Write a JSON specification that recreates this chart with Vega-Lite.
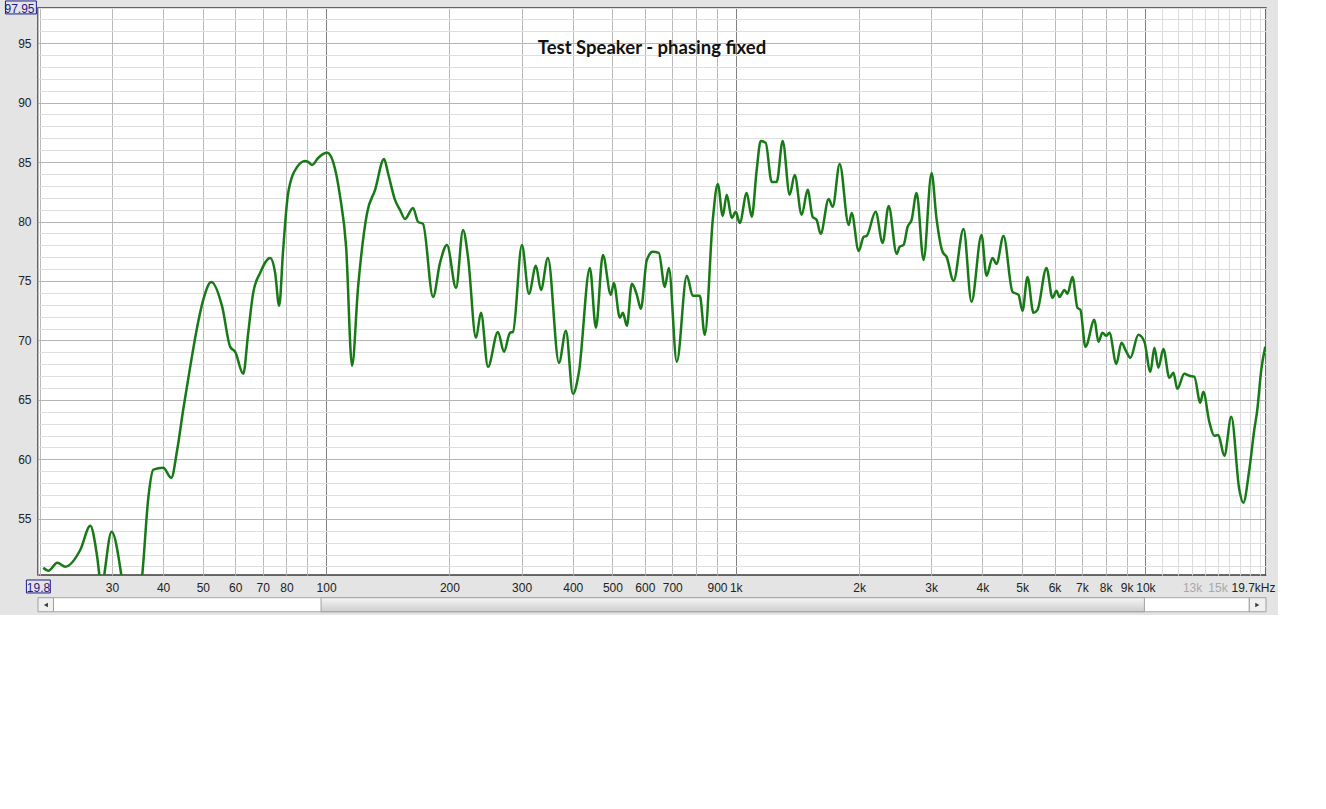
{
  "$schema": "https://vega.github.io/schema/vega-lite/v6.json",
  "width": 1228,
  "height": 567,
  "autosize": {"type": "none"},
  "padding": {"left": 38, "top": 8, "right": 12, "bottom": 40},
  "background": "#e4e4e4",
  "config": {
    "view": {"fill": "#ffffff", "stroke": "#3a3a3a", "strokeWidth": 1.5},
    "font": "Liberation Sans"
  },
  "title": {
    "text": "Test Speaker - phasing fixed",
    "orient": "top",
    "anchor": "middle",
    "frame": "group",
    "baseline": "alphabetic",
    "offset": -72,
    "font": "Lato",
    "fontSize": 18.5,
    "fontWeight": "bold",
    "color": "#111111"
  },
  "datasets": {
    "response": [
      {"f": 20.4, "db": 50.89}, {"f": 21.0, "db": 50.64}, {"f": 22.08, "db": 51.31}, {"f": 23.09, "db": 50.98},
      {"f": 25.12, "db": 52.4}, {"f": 26.57, "db": 54.42}, {"f": 27.33, "db": 52.82}, {"f": 27.95, "db": 50.3},
      {"f": 28.26, "db": 48.5}, {"f": 28.74, "db": 50.3}, {"f": 29.95, "db": 53.92}, {"f": 31.62, "db": 50.3},
      {"f": 32.52, "db": 47}, {"f": 33.45, "db": 45.5}, {"f": 34.59, "db": 47}, {"f": 35.58, "db": 50.3},
      {"f": 36.81, "db": 56.77}, {"f": 37.85, "db": 59.13}, {"f": 38.9, "db": 59.25}, {"f": 40.04, "db": 59.29},
      {"f": 41.88, "db": 58.45}, {"f": 43.3, "db": 60.81}, {"f": 44.78, "db": 64.17}, {"f": 46.58, "db": 67.78},
      {"f": 48.45, "db": 71.14}, {"f": 50.12, "db": 73.41}, {"f": 52.43, "db": 74.92}, {"f": 55.77, "db": 72.82},
      {"f": 58.33, "db": 69.46}, {"f": 59.98, "db": 69.04}, {"f": 62.76, "db": 67.19}, {"f": 64.54, "db": 70.64},
      {"f": 66.37, "db": 74.0}, {"f": 69.02, "db": 75.68}, {"f": 73.01, "db": 76.94}, {"f": 75.09, "db": 75.68},
      {"f": 76.8, "db": 72.91}, {"f": 78.54, "db": 77.61}, {"f": 80.79, "db": 82.4}, {"f": 84.97, "db": 84.59},
      {"f": 88.88, "db": 85.09}, {"f": 90.4, "db": 85.01}, {"f": 92.44, "db": 84.76}, {"f": 95.6, "db": 85.34},
      {"f": 100.6, "db": 85.77}, {"f": 104.0, "db": 85.01}, {"f": 108.2, "db": 82.07}, {"f": 111.9, "db": 77.87},
      {"f": 115.7, "db": 67.87}, {"f": 119.7, "db": 74.5}, {"f": 125.9, "db": 80.72}, {"f": 131.7, "db": 82.66},
      {"f": 138.5, "db": 85.26}, {"f": 141.6, "db": 84.08}, {"f": 147.3, "db": 81.82}, {"f": 151.5, "db": 80.98},
      {"f": 155.8, "db": 80.22}, {"f": 163.0, "db": 81.14}, {"f": 167.7, "db": 79.97}, {"f": 172.4, "db": 79.8},
      {"f": 182.4, "db": 73.66}, {"f": 189.7, "db": 76.52}, {"f": 197.3, "db": 78.03}, {"f": 207.6, "db": 74.42},
      {"f": 215.9, "db": 79.29}, {"f": 222.0, "db": 77.03}, {"f": 232.2, "db": 70.22}, {"f": 238.8, "db": 72.32},
      {"f": 248.4, "db": 67.78}, {"f": 262.7, "db": 70.72}, {"f": 271.8, "db": 69.04}, {"f": 281.1, "db": 70.64},
      {"f": 285.9, "db": 70.72}, {"f": 300.6, "db": 78.03}, {"f": 312.7, "db": 73.92}, {"f": 325.2, "db": 76.27},
      {"f": 334.5, "db": 74.25}, {"f": 347.9, "db": 76.94}, {"f": 370.2, "db": 68.12}, {"f": 385.0, "db": 70.81},
      {"f": 400.4, "db": 65.51}, {"f": 414.2, "db": 67.36}, {"f": 440.5, "db": 76.1}, {"f": 455.6, "db": 71.06},
      {"f": 473.9, "db": 77.19}, {"f": 495.6, "db": 73.83}, {"f": 504.0, "db": 74.84}, {"f": 521.3, "db": 71.9},
      {"f": 530.2, "db": 72.32}, {"f": 542.2, "db": 71.23}, {"f": 557.7, "db": 74.76}, {"f": 573.6, "db": 73.83},
      {"f": 586.6, "db": 72.66}, {"f": 606.7, "db": 76.77}, {"f": 627.5, "db": 77.45}, {"f": 649.0, "db": 77.36},
      {"f": 671.2, "db": 74.5}, {"f": 686.5, "db": 76.1}, {"f": 718.0, "db": 68.2}, {"f": 759.5, "db": 75.43},
      {"f": 785.5, "db": 73.75}, {"f": 817.0, "db": 73.75}, {"f": 840.3, "db": 70.47}, {"f": 878.9, "db": 80.13},
      {"f": 903.9, "db": 83.16}, {"f": 929.6, "db": 80.47}, {"f": 950.6, "db": 82.24}, {"f": 977.7, "db": 80.3},
      {"f": 1000, "db": 80.81}, {"f": 1022.8, "db": 79.88}, {"f": 1063.6, "db": 82.4}, {"f": 1094, "db": 80.39},
      {"f": 1125, "db": 84.34}, {"f": 1150.7, "db": 86.77}, {"f": 1183.4, "db": 86.61}, {"f": 1223.9, "db": 83.33},
      {"f": 1258.9, "db": 83.33}, {"f": 1302, "db": 86.77}, {"f": 1354.1, "db": 82.24}, {"f": 1392.6, "db": 83.92},
      {"f": 1448.6, "db": 80.56}, {"f": 1498.2, "db": 82.66}, {"f": 1540.8, "db": 80.39}, {"f": 1575.9, "db": 80.13},
      {"f": 1611.7, "db": 78.96}, {"f": 1686.1, "db": 81.9}, {"f": 1724.5, "db": 81.23}, {"f": 1793.7, "db": 84.84},
      {"f": 1886.5, "db": 79.71}, {"f": 1918.5, "db": 80.72}, {"f": 1995.3, "db": 77.53}, {"f": 2052.2, "db": 78.71},
      {"f": 2087, "db": 78.79}, {"f": 2195.5, "db": 80.81}, {"f": 2283.6, "db": 78.2}, {"f": 2362.2, "db": 81.31},
      {"f": 2470.7, "db": 77.28}, {"f": 2511.9, "db": 77.87}, {"f": 2569.2, "db": 78.03}, {"f": 2627.5, "db": 79.55},
      {"f": 2687.3, "db": 80.13}, {"f": 2763.7, "db": 82.4}, {"f": 2874.2, "db": 76.77}, {"f": 3006, "db": 84.08},
      {"f": 3091.7, "db": 80.22}, {"f": 3198, "db": 77.45}, {"f": 3270.7, "db": 77.03}, {"f": 3402, "db": 75.01},
      {"f": 3598, "db": 79.38}, {"f": 3763, "db": 73.24}, {"f": 3981.1, "db": 78.87}, {"f": 4094.4, "db": 75.43},
      {"f": 4234.6, "db": 76.94}, {"f": 4331, "db": 76.44}, {"f": 4505, "db": 78.79}, {"f": 4738.7, "db": 74.08},
      {"f": 4900.6, "db": 73.83}, {"f": 5011.9, "db": 72.49}, {"f": 5154.6, "db": 75.34}, {"f": 5331.1, "db": 72.32},
      {"f": 5452.7, "db": 72.57}, {"f": 5735, "db": 76.1}, {"f": 5932, "db": 73.58}, {"f": 6066.9, "db": 74.17},
      {"f": 6169.7, "db": 73.66}, {"f": 6345.5, "db": 74.25}, {"f": 6454.3, "db": 73.92}, {"f": 6637, "db": 75.34},
      {"f": 6825.3, "db": 72.74}, {"f": 6941.3, "db": 72.57}, {"f": 7139.1, "db": 69.46}, {"f": 7508.5, "db": 71.73},
      {"f": 7679.5, "db": 69.88}, {"f": 7853.9, "db": 70.64}, {"f": 8032.4, "db": 70.39}, {"f": 8168.8, "db": 70.64},
      {"f": 8495.9, "db": 68.03}, {"f": 8739.8, "db": 69.8}, {"f": 8989, "db": 69.04}, {"f": 9192.3, "db": 68.54},
      {"f": 9614.5, "db": 70.47}, {"f": 9944.9, "db": 69.88}, {"f": 10285, "db": 67.36}, {"f": 10519, "db": 69.38},
      {"f": 10758, "db": 67.7}, {"f": 11064, "db": 69.29}, {"f": 11443, "db": 66.86}, {"f": 11704, "db": 67.28},
      {"f": 11967, "db": 65.93}, {"f": 12447, "db": 67.19}, {"f": 12801, "db": 67.03}, {"f": 13166, "db": 66.96},
      {"f": 13617, "db": 64.76}, {"f": 13849, "db": 65.68}, {"f": 14323, "db": 63.16}, {"f": 14732, "db": 61.98},
      {"f": 15066, "db": 62.06}, {"f": 15583, "db": 60.3}, {"f": 16208, "db": 63.58}, {"f": 16956, "db": 57.45},
      {"f": 17338, "db": 56.35}, {"f": 17935, "db": 59.13}, {"f": 18445, "db": 62.49}, {"f": 18758, "db": 64.17},
      {"f": 19182, "db": 67.53}, {"f": 19618, "db": 69.46}
    ],
    "scrollbar": [
      {"part": "track", "f1": 21.6, "f2": 17935},
      {"part": "thumb", "f1": 97.2, "f2": 9945},
      {"part": "button", "f1": 19.8, "f2": 21.6},
      {"part": "button", "f1": 17935, "f2": 19700}
    ],
    "arrows": [
      {"dir": "left", "f": 20.7},
      {"dir": "right", "f": 18758}
    ],
    "boxes": [
      {"label": "19.8", "f1": 18.55, "f2": 21.22, "d1": 49.86, "d2": 48.77},
      {"label": "97.95", "f1": 16.49, "f2": 19.62, "d1": 98.54, "d2": 97.45}
    ]
  },
  "layer": [
    {
      "data": {"name": "response"},
      "mark": {"type": "line", "interpolate": "monotone", "clip": true, "color": "#177a17", "strokeWidth": 2.5},
      "encoding": {
        "x": {
          "field": "f",
          "type": "quantitative",
          "scale": {"type": "log", "domain": [19.8, 19700], "nice": false},
          "axis": {
            "title": null,
            "tickCount": 200,
            "values": [19.8, 20, 30, 40, 50, 60, 70, 80, 90, 100, 200, 300, 400, 500, 600, 700, 800, 900, 1000, 2000, 3000, 4000, 5000, 6000, 7000, 8000, 9000, 10000, 11000, 12000, 13000, 14000, 15000, 16000, 17000, 18000, 19000, 19700],
            "labelExpr": "datum.value == 19.8 ? '19.8' : datum.value == 19700 ? '19.7kHz' : (datum.value == 20 || datum.value == 90 || datum.value == 800 || (datum.value > 10000 && datum.value != 13000 && datum.value != 15000)) ? '' : datum.value >= 1000 ? (datum.value / 1000) + 'k' : '' + datum.value",
            "labelOverlap": false,
            "labelFlush": false,
            "labelBound": false,
            "labelFontSize": 12,
            "labelFont": "Liberation Sans",
            "labelPadding": 7,
            "labelOffset": {"condition": {"test": "datum.value == 19700", "value": -13}, "value": 0},
            "labelColor": {
              "condition": [
                {"test": "datum.value == 13000 || datum.value == 15000", "value": "#a8a8a8"},
                {"test": "datum.value == 19.8", "value": "#1c1c8a"}
              ],
              "value": "#222222"
            },
            "ticks": false,
            "domain": false,
            "grid": true,
            "gridWidth": 1,
            "gridColor": {
              "condition": [
                {"test": "datum.value == 100 || datum.value == 1000 || datum.value == 10000", "value": "#808080"},
                {"test": "datum.value > 10000", "value": "#dadada"}
              ],
              "value": "#bababa"
            }
          }
        },
        "y": {
          "field": "db",
          "type": "quantitative",
          "scale": {"domain": [50.28, 97.95], "nice": false, "zero": false},
          "axis": {
            "title": null,
            "tickCount": 200,
            "values": [51, 52, 53, 54, 55, 56, 57, 58, 59, 60, 61, 62, 63, 64, 65, 66, 67, 68, 69, 70, 71, 72, 73, 74, 75, 76, 77, 78, 79, 80, 81, 82, 83, 84, 85, 86, 87, 88, 89, 90, 91, 92, 93, 94, 95, 96, 97, 97.95],
            "labelExpr": "datum.value == 97.95 ? '97.95' : (datum.value % 5 === 0 ? '' + datum.value : '')",
            "labelOverlap": false,
            "labelFontSize": 12,
            "labelFont": "Liberation Sans",
            "labelPadding": {"condition": {"test": "datum.value == 97.95", "value": 4}, "value": 7},
            "labelColor": {"condition": {"test": "datum.value == 97.95", "value": "#1c1c8a"}, "value": "#222222"},
            "ticks": false,
            "domain": false,
            "grid": true,
            "gridWidth": 1,
            "gridColor": {"condition": {"test": "datum.value % 5 === 0", "value": "#b4b4b4"}, "value": "#dedede"}
          }
        }
      }
    },
    {
      "data": {"name": "scrollbar"},
      "transform": [{"filter": "datum.part === 'track'"}],
      "mark": {"type": "rect", "fill": "#ffffff", "stroke": "#a6a6a6", "strokeWidth": 1},
      "encoding": {
        "x": {"field": "f1", "type": "quantitative", "scale": {"type": "log"}},
        "x2": {"field": "f2"},
        "y": {"datum": 48.37, "type": "quantitative"},
        "y2": {"datum": 47.19}
      }
    },
    {
      "data": {"name": "scrollbar"},
      "transform": [{"filter": "datum.part === 'thumb'"}],
      "mark": {
        "type": "rect",
        "stroke": "#a0a0a0",
        "strokeWidth": 1,
        "fill": {"gradient": "linear", "x1": 0, "y1": 0, "x2": 0, "y2": 1,
          "stops": [{"offset": 0, "color": "#f6f6f6"}, {"offset": 1, "color": "#cdcdcd"}]}
      },
      "encoding": {
        "x": {"field": "f1", "type": "quantitative", "scale": {"type": "log"}},
        "x2": {"field": "f2"},
        "y": {"datum": 48.37, "type": "quantitative"},
        "y2": {"datum": 47.19}
      }
    },
    {
      "data": {"name": "scrollbar"},
      "transform": [{"filter": "datum.part === 'button'"}],
      "mark": {"type": "rect", "fill": "#f0f0f0", "stroke": "#a0a0a0", "strokeWidth": 1},
      "encoding": {
        "x": {"field": "f1", "type": "quantitative", "scale": {"type": "log"}},
        "x2": {"field": "f2"},
        "y": {"datum": 48.37, "type": "quantitative"},
        "y2": {"datum": 47.19}
      }
    },
    {
      "data": {"name": "arrows"},
      "mark": {"type": "point", "filled": true, "color": "#3a3a3a", "size": 22, "opacity": 1},
      "encoding": {
        "x": {"field": "f", "type": "quantitative", "scale": {"type": "log"}},
        "y": {"datum": 47.76, "type": "quantitative"},
        "shape": {"field": "dir", "type": "nominal", "scale": {"domain": ["left", "right"], "range": ["triangle-left", "triangle-right"]}, "legend": null}
      }
    },
    {
      "data": {"name": "boxes"},
      "mark": {"type": "rect", "fill": null, "fillOpacity": 0, "stroke": "#1c1c8a", "strokeWidth": 1},
      "encoding": {
        "x": {"field": "f1", "type": "quantitative", "scale": {"type": "log"}},
        "x2": {"field": "f2"},
        "y": {"field": "d1", "type": "quantitative"},
        "y2": {"field": "d2"}
      }
    }
  ]
}
